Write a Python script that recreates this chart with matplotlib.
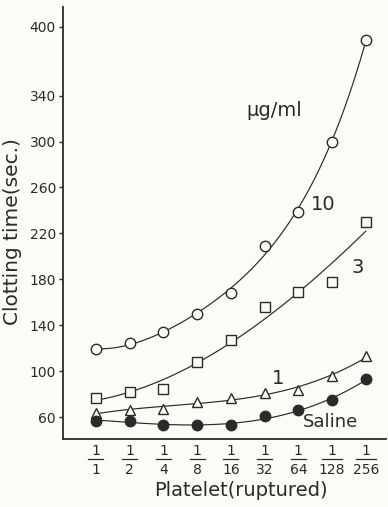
import numpy as np
import matplotlib.pyplot as plt
import matplotlib.transforms as mtransforms

# platelet dilution (ruptured) and clotting time in seconds
denominators = ['1', '2', '4', '8', '16', '32', '64', '128', '256']
conc_10 = [119, 125, 134, 150, 168, 209, 239, 300, 388]
conc_3 = [77, 82, 85, 108, 127, 156, 169, 178, 230]
conc_1 = [64, 66, 67, 73, 77, 81, 84, 96, 113]
saline = [57, 57, 53, 53, 53, 61, 66, 75, 93]
yticks = [60, 100, 140, 180, 220, 260, 300, 340, 400]

ink = '#2a2a2a'
paper = '#fbfbf7'
plt.rcParams['font.family'] = ['DejaVu Sans']

fig = plt.figure(figsize=(3.88, 5.07), dpi=100, facecolor=paper)
ax = fig.add_axes([0.162, 0.134, 0.833, 0.852], facecolor=paper)

x = np.arange(len(denominators))
xs = np.linspace(0, len(denominators) - 1, 200)

series = [
    (conc_10, 4, dict(marker='o', mfc=paper)),
    (conc_3, 3, dict(marker='s', mfc=paper)),
    (conc_1, 3, dict(marker='^', mfc=paper)),
    (saline, 3, dict(marker='o', mfc=ink)),
]
for vals, deg, style in series:
    # smooth hand-drawn style curve: polynomial fit through the points
    coef = np.polyfit(x, vals, deg)
    ax.plot(xs, np.polyval(coef, xs), color=ink, lw=0.85)
    ax.plot(x, vals, linestyle='none', mec=ink, mew=1.0, ms=7.5, **style)

ax.set_xlim(-0.98, 8.6)
ax.set_ylim(41, 417)
ax.set_yticks(yticks)
ax.set_yticklabels([str(v) for v in yticks], fontsize=10, color=ink)
ax.tick_params(axis='y', direction='out', length=3, width=1, color=ink, pad=2)
ax.set_xticks([])
for side in ['top', 'right']:
    ax.spines[side].set_visible(False)
for side in ['left', 'bottom']:
    ax.spines[side].set_color(ink)
    ax.spines[side].set_linewidth(1.3)

# fraction tick labels 1/n under each point
trans = mtransforms.blended_transform_factory(ax.transData, ax.transAxes)
for i, d in enumerate(denominators):
    ax.text(i, -0.027, '1', transform=trans, ha='center', va='center',
            fontsize=10, color=ink)
    half = 0.22 if len(d) < 3 else 0.3
    ax.plot([i - half, i + half], [-0.047, -0.047], transform=trans,
            color=ink, lw=0.9, clip_on=False)
    ax.text(i, -0.072, d, transform=trans, ha='center', va='center',
            fontsize=10, color=ink)

ax.set_xlabel('Platelet(ruptured)', fontsize=14, color=ink)
ax.xaxis.set_label_coords(0.55, -0.097)
ax.set_ylabel('Clotting time(sec.)', fontsize=14.5, color=ink)
ax.yaxis.set_label_coords(-0.127, 0.48)

# curve labels
ax.text(5.3, 327, 'μg/ml', fontsize=14, color=ink, ha='center', va='center')
ax.text(6.75, 245, '10', fontsize=14, color=ink, ha='center', va='center')
ax.text(7.75, 190, '3', fontsize=14, color=ink, ha='center', va='center')
ax.text(5.4, 94, '1', fontsize=14, color=ink, ha='center', va='center')
ax.text(6.95, 56, 'Saline', fontsize=13, color=ink, ha='center', va='center')

fig.savefig('out.png', dpi=100, facecolor=paper)
